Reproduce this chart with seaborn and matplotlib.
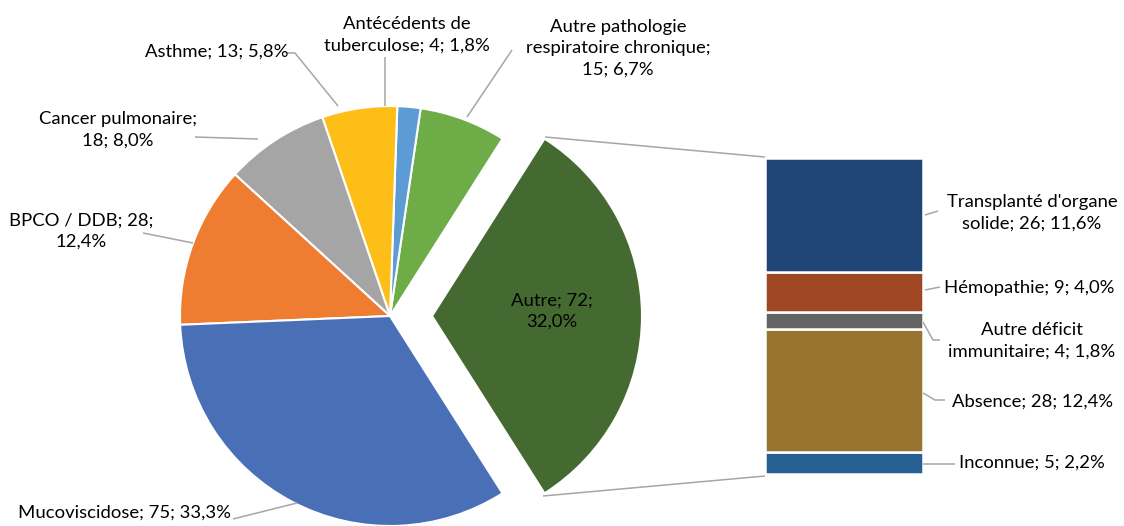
import matplotlib
matplotlib.use("Agg")
import matplotlib.pyplot as plt
import seaborn as sns

# ---- data ----
pie_names = ["Autre", "Autre pathologie respiratoire chronique", "Antécédents de tuberculose",
             "Asthme", "Cancer pulmonaire", "BPCO / DDB", "Mucoviscidose"]
pie_values = [72, 15, 4, 13, 18, 28, 75]
pie_pct = ["32,0%", "6,7%", "1,8%", "5,8%", "8,0%", "12,4%", "33,3%"]

bar_names = ["Transplanté d'organe solide", "Hémopathie", "Autre déficit immunitaire", "Absence", "Inconnue"]
bar_values = [26, 9, 4, 28, 5]
bar_pct = ["11,6%", "4,0%", "1,8%", "12,4%", "2,2%"]

pie_colors = ["#456A31", "#6EAC47", "#5C9BD4", "#FDBF17", "#A5A5A5", "#EE7D31", "#4970B7"]
bar_colors = ["#1F4476", "#9E4722", "#636363", "#987430", "#265F91"]

# label texts (as displayed, with line breaks)
pie_texts = [
    "Autre; 72;\n32,0%",
    "Autre pathologie\nrespiratoire chronique;\n15; 6,7%",
    "Antécédents de\ntuberculose; 4; 1,8%",
    "Asthme; 13; 5,8%",
    "Cancer pulmonaire;\n18; 8,0%",
    "BPCO / DDB; 28;\n12,4%",
    "Mucoviscidose; 75; 33,3%",
]
bar_texts = [
    "Transplanté d'organe\nsolide; 26; 11,6%",
    "Hémopathie; 9; 4,0%",
    "Autre déficit\nimmunitaire; 4; 1,8%",
    "Absence; 28; 12,4%",
    "Inconnue; 5; 2,2%",
]

# ---- layout (pixel positions, y from top) ----
W, H = 1124, 526
pie_center_px = (390, 316)
pie_radius = 210
explode_px = 42
pie_label_pos = [(552, 311), (618, 48), (407, 35), (217, 52), (118, 130), (81, 231), (125, 513)]
pie_leaders = [
    None,
    [(512, 50), (467, 117)],
    [(385, 57), (385, 106)],
    [(287, 53), (295, 53), (338, 106)],
    [(195, 137), (258, 139)],
    [(143, 233), (193, 243)],
    [(233, 519), (297, 503)],
]
bar_box_px = (765, 158, 923, 474)  # left, top, right, bottom
bar_label_pos = [(1032, 213), (1029, 288), (1032, 341), (1033, 402), (1032, 463)]
bar_leaders = [
    [(925, 215), (938, 211)],
    [(925, 290), (940, 287)],
    [(923, 322), (933, 340), (940, 340)],
    [(923, 393), (935, 400), (945, 400)],
    [(923, 464), (955, 464)],
]
connectors = [[(545, 137), (765, 157)], [(543, 496), (765, 476)]]

sns.set_theme(style="white")
plt.rcParams["font.family"] = ["Lato", "DejaVu Sans"]
FS = 13.3
LINE = "#A6A6A6"
TXT = "#000000"
LS = 1.42

def Y(py):
    return H - py

fig = plt.figure(figsize=(W / 100, H / 100), dpi=100)
ax = fig.add_axes([0, 0, 1, 1])

total = sum(pie_values)
start = -360 * pie_values[0] / total / 2
explode = [explode_px] + [0] * (len(pie_values) - 1)
ax.pie(pie_values, colors=pie_colors, startangle=start, counterclock=True,
       explode=explode, center=(pie_center_px[0], Y(pie_center_px[1])), radius=pie_radius,
       wedgeprops=dict(edgecolor="white", linewidth=1.5), frame=False)
ax.set_xlim(0, W)
ax.set_ylim(0, H)
ax.set_aspect("auto")
ax.axis("off")

for txt, (px, py) in zip(pie_texts, pie_label_pos):
    ax.text(px, Y(py), txt, ha="center", va="center", fontsize=FS, color=TXT,
            linespacing=LS, multialignment="center")
for seg in pie_leaders + bar_leaders + connectors:
    if seg is None:
        continue
    ax.plot([p[0] for p in seg], [Y(p[1]) for p in seg], color=LINE, lw=1.1,
            solid_capstyle="butt", zorder=1)
for txt, (px, py) in zip(bar_texts, bar_label_pos):
    ax.text(px, Y(py), txt, ha="center", va="center", fontsize=FS, color=TXT,
            linespacing=LS, multialignment="center")

# stacked bar in its own axes
l, t, r, b = bar_box_px
bax = fig.add_axes([l / W, (H - b) / H, (r - l) / W, (b - t) / H])
bottom = 0
for v, c in zip(reversed(bar_values), reversed(bar_colors)):
    bax.bar(0, v, bottom=bottom, width=1.0, color=c, edgecolor="white", linewidth=1.8)
    bottom += v
bax.set_xlim(-0.5, 0.5)
bax.set_ylim(0, sum(bar_values))
bax.axis("off")

fig.savefig("out.png", dpi=100)
